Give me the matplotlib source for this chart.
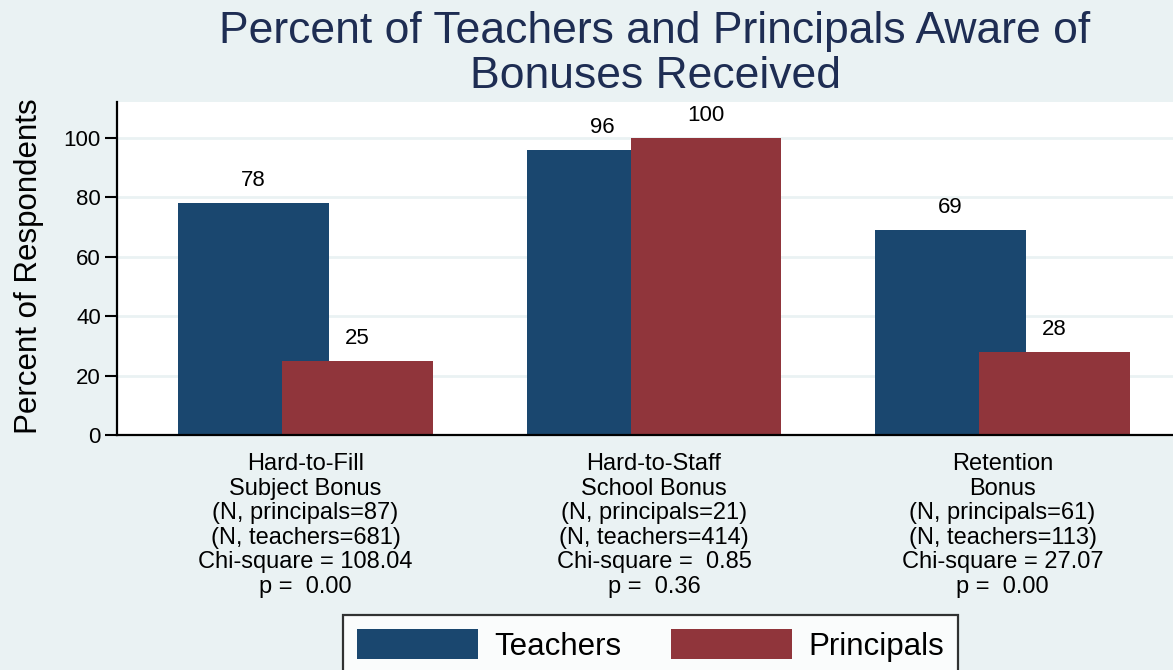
import numpy as np
import matplotlib
matplotlib.use("Agg")
import matplotlib.pyplot as plt

plt.rcParams['font.family'] = ['Liberation Sans', 'DejaVu Sans']

categories = ["Hard-to-Fill\nSubject Bonus\n(N, principals=87)\n(N, teachers=681)\nChi-square = 108.04\np =  0.00",
              "Hard-to-Staff\nSchool Bonus\n(N, principals=21)\n(N, teachers=414)\nChi-square =  0.85\np =  0.36",
              "Retention\nBonus\n(N, principals=61)\n(N, teachers=113)\nChi-square = 27.07\np =  0.00"]
teachers = [78, 96, 69]
principals = [25, 100, 28]
yticks = [0, 20, 40, 60, 80, 100]

bg = '#EAF2F3'
navy = '#1A476F'
maroon = '#90353B'

fig = plt.figure(figsize=(11.73, 6.70), dpi=100, facecolor=bg)
ax = fig.add_axes([117/1173, 1 - 435/670, 1 - 117/1173, (435 - 102)/670])
ax.set_facecolor('white')

x = np.arange(len(categories))
w = 0.433
off = 0.149
b1 = ax.bar(x - off, teachers, w, color=navy, zorder=2, label='Teachers')
b2 = ax.bar(x + off, principals, w, color=maroon, zorder=3, label='Principals')

for bars, vals in ((b1, teachers), (b2, principals)):
    for r, v in zip(bars, vals):
        ax.annotate(f"{v}", (r.get_x() + r.get_width()/2, v), xytext=(0, 12),
                    textcoords='offset points', ha='center', va='baseline',
                    fontsize=16, color='black')

ax.set_xlim(-0.541, 2.489)
ax.set_ylim(0, 112)
ax.set_yticks(yticks)
ax.tick_params(axis='y', labelsize=16, length=8.6, width=1.5, pad=3)
ax.set_xticks(x)
ax.set_xticklabels(categories, fontsize=17, linespacing=1.15)
ax.tick_params(axis='x', length=0, pad=13)
ax.yaxis.grid(True, color=bg, lw=2, zorder=0)
ax.set_axisbelow(True)
for s in ('top', 'right'):
    ax.spines[s].set_visible(False)
for s in ('left', 'bottom'):
    ax.spines[s].set_linewidth(1.6)
    ax.spines[s].set_zorder(4)

fig.text(29/1173, 1 - 266/670, "Percent of Respondents", rotation=90,
         ha='center', va='center', fontsize=22.5)
fig.text(655/1173, 1 - 11/670, "Percent of Teachers and Principals Aware of\nBonuses Received",
         ha='center', va='top', fontsize=32, color='#1E2D53', linespacing=1.12)

leg = fig.legend(handles=[b1, b2], loc='upper left', bbox_to_anchor=(343/1173, 1 - 615/670),
                 ncol=2, fontsize=22.5, frameon=True, fancybox=False, edgecolor='black',
                 handlelength=3.87, handleheight=1.12, handletextpad=0.51,
                 columnspacing=1.6, borderpad=0.45, borderaxespad=0)
leg.get_frame().set_linewidth(1.6)
leg.get_frame().set_facecolor('white')

fig.savefig("out.png", dpi=100, facecolor=bg)
